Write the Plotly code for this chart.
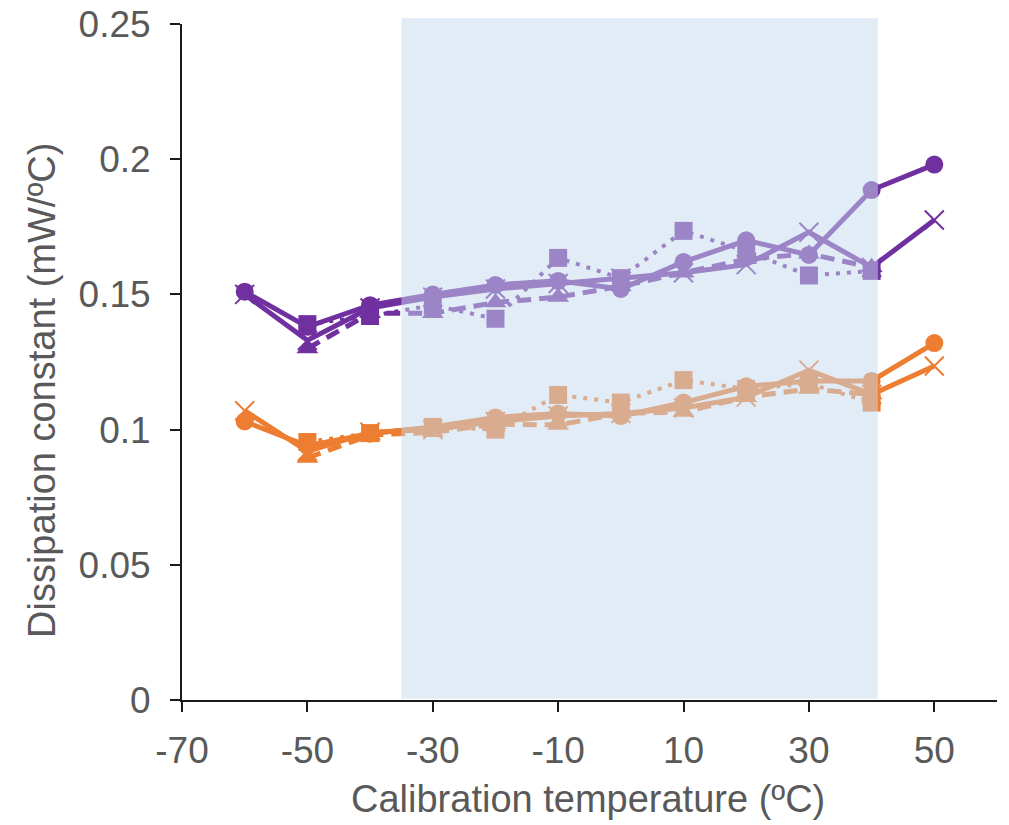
import plotly.graph_objects as go

# ---- data ----
temps_all = [-60, -50, -40, -30, -20, -10, 0, 10, 20, 30, 40, 50]
temps_mid = [-50, -40, -30, -20, -10, 0, 10, 20, 30, 40]

purple_circle = [0.151, 0.138, 0.146, 0.150, 0.1535, 0.155, 0.152, 0.162, 0.170, 0.1646, 0.1886, 0.198]
purple_cross = [0.150, 0.133, 0.145, 0.149, 0.152, 0.154, 0.156, 0.158, 0.161, 0.173, 0.160, 0.1775]
purple_triangle = [0.130, 0.143, 0.143, 0.147, 0.149, 0.153, 0.158, 0.163, 0.165, 0.160]
purple_square = [0.139, 0.142, 0.146, 0.141, 0.1635, 0.156, 0.1735, 0.166, 0.157, 0.1587]

orange_circle = [0.103, 0.094, 0.0985, 0.101, 0.1045, 0.106, 0.105, 0.110, 0.116, 0.118, 0.118, 0.132]
orange_cross = [0.107, 0.092, 0.099, 0.100, 0.103, 0.105, 0.106, 0.108, 0.112, 0.122, 0.113, 0.1235]
orange_triangle = [0.0895, 0.098, 0.099, 0.102, 0.1017, 0.106, 0.1065, 0.112, 0.115, 0.113]
orange_square = [0.0954, 0.0987, 0.101, 0.100, 0.1128, 0.110, 0.1183, 0.115, 0.117, 0.110]

x_ticks = [-70, -50, -30, -10, 10, 30, 50]
y_ticks = [0, 0.05, 0.1, 0.15, 0.2, 0.25]
y_tick_text = ["0", "0.05", "0.1", "0.15", "0.2", "0.25"]
shade_range = [-35, 41]
x_title = "Calibration temperature (ºC)"
y_title = "Dissipation constant (mW/ºC)"

PURPLE = "#7030A0"
ORANGE = "#ED7D31"
TEXT = "#595959"

fig = go.Figure()


def add_group(color, circ, cross, tri, sq):
    fig.add_trace(go.Scatter(
        x=temps_mid, y=tri, mode="lines+markers",
        line=dict(color=color, width=5, dash="14px,8px"),
        marker=dict(symbol="triangle-up", size=19, color=color),
        showlegend=False))
    fig.add_trace(go.Scatter(
        x=temps_all, y=cross, mode="lines+markers",
        line=dict(color=color, width=5),
        marker=dict(symbol="x-thin-open", size=19, color=color,
                    line=dict(color=color, width=2)),
        showlegend=False))
    fig.add_trace(go.Scatter(
        x=temps_all, y=circ, mode="lines+markers",
        line=dict(color=color, width=5),
        marker=dict(symbol="circle", size=18, color=color),
        showlegend=False))
    fig.add_trace(go.Scatter(
        x=temps_mid, y=sq, mode="lines+markers",
        line=dict(color=color, width=4, dash="4px,7px"),
        marker=dict(symbol="square", size=18, color=color),
        showlegend=False))


add_group(ORANGE, orange_circle, orange_cross, orange_triangle, orange_square)
add_group(PURPLE, purple_circle, purple_cross, purple_triangle, purple_square)

fig.add_shape(type="rect", xref="x", yref="paper",
              x0=shade_range[0], x1=shade_range[1], y0=0.002, y1=1.009,
              fillcolor="rgb(197,218,238)", opacity=0.5,
              line=dict(width=0), layer="above")

font_family = "Liberation Sans, Arial, sans-serif"

fig.add_annotation(text=x_title, xref="paper", yref="paper",
                   x=0.498, y=-0.1464, xanchor="center", yanchor="middle",
                   showarrow=False,
                   font=dict(size=38, color=TEXT, family=font_family))
fig.add_annotation(text=y_title, xref="paper", yref="paper",
                   x=-0.1718, y=0.4586, xanchor="center", yanchor="middle",
                   textangle=-90, showarrow=False,
                   font=dict(size=38, color=TEXT, family=font_family))

fig.update_layout(
    width=1009, height=825,
    margin=dict(l=182, r=12, t=24, b=125),
    paper_bgcolor="white", plot_bgcolor="white",
    font=dict(family=font_family, color=TEXT, size=37),
    xaxis=dict(
        range=[-70, 60], tickvals=x_ticks, ticktext=[str(v) for v in x_ticks],
        showgrid=False, zeroline=False,
        showline=True, linecolor="#1a1a1a", linewidth=2,
        ticks="outside", ticklen=10, tickwidth=2, tickcolor="#1a1a1a",
        tickfont=dict(size=37, color=TEXT, family=font_family),
        ticklabelstandoff=7,
        automargin=False,
    ),
    yaxis=dict(
        range=[0, 0.25], tickvals=y_ticks, ticktext=y_tick_text,
        showgrid=False, zeroline=False,
        showline=True, linecolor="#1a1a1a", linewidth=2,
        ticks="outside", ticklen=10, tickwidth=2, tickcolor="#1a1a1a",
        tickfont=dict(size=37, color=TEXT, family=font_family),
        ticklabelstandoff=12,
        automargin=False,
    ),
)

fig.write_html("out.html")
